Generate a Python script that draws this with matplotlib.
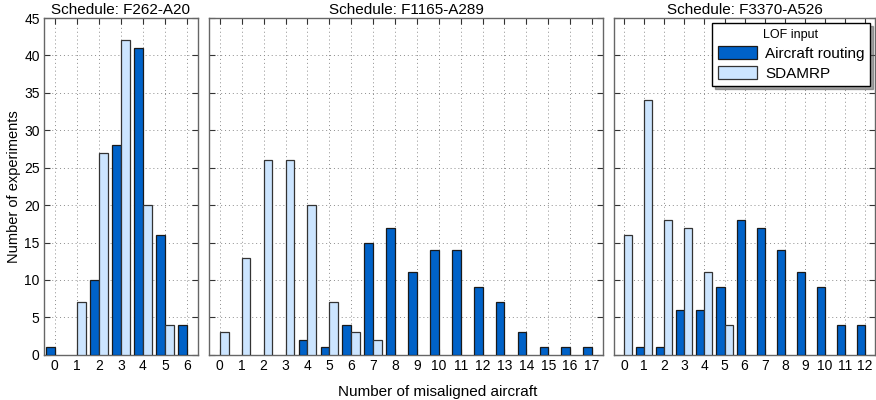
import numpy as np
import matplotlib
matplotlib.use("Agg")
import matplotlib.pyplot as plt

plt.rcParams["font.family"] = ["Liberation Sans", "DejaVu Sans"]

schedules = ["F262-A20", "F1165-A289", "F3370-A526"]
routing = [
    [1, 0, 10, 28, 41, 16, 4],
    [0, 0, 0, 0, 2, 1, 4, 15, 17, 11, 14, 14, 9, 7, 3, 1, 1, 1],
    [0, 1, 1, 6, 6, 9, 18, 17, 14, 11, 9, 4, 4],
]
sdamrp = [
    [0, 7, 27, 42, 20, 4, 0],
    [3, 13, 26, 26, 20, 7, 3, 2, 0, 0, 0, 0, 0, 0, 0, 0, 0, 0],
    [16, 34, 18, 17, 11, 4, 0, 0, 0, 0, 0, 0, 0],
]
series_labels = ["Aircraft routing", "SDAMRP"]
c_ar, c_sd = "#0062C8", "#CCE5FF"

fig = plt.figure(figsize=(8.76, 4.0), dpi=100)
# panel widths as measured on the reference (px)
gs = fig.add_gridspec(1, 3, width_ratios=[154, 394, 261], left=0.050, right=0.999,
                      bottom=0.113, top=0.955, wspace=0.041)

for i, name in enumerate(schedules):
    ax = fig.add_subplot(gs[0, i])
    x = np.arange(len(routing[i]))
    ar = np.array(routing[i]); sd = np.array(sdamrp[i])
    m1 = ar > 0; m2 = sd > 0
    ax.bar(x[m1] - 0.2, ar[m1], width=0.4, color=c_ar, edgecolor="#1a1a1a", lw=0.9,
           label=series_labels[0], zorder=3)
    ax.bar(x[m2] + 0.2, sd[m2], width=0.4, color=c_sd, edgecolor="#333333", lw=0.9,
           label=series_labels[1], zorder=3)
    ax.set_xlim(-0.5, len(x) - 0.5)
    ax.set_ylim(0, 45)
    ax.set_xticks(x)
    ax.set_yticks(np.arange(0, 46, 5))
    ax.grid(True, ls=(0, (1, 3)), color="#8c8c8c", lw=0.7, zorder=0)
    ax.tick_params(direction="in", top=True, right=True, length=4, labelsize=10,
                   color="#333333", pad=3)
    if i > 0:
        ax.tick_params(labelleft=False)
    for s in ax.spines.values():
        s.set_color("#666666"); s.set_linewidth(1.0)
    ax.set_title(f"Schedule: {name}", fontsize=11, pad=3)
    if i == 0:
        ax.set_ylabel("Number of experiments", fontsize=10.5, labelpad=2)
    if i == 2:
        leg = ax.legend(title="LOF input", loc="upper right", fontsize=11,
                        title_fontsize=9, fancybox=False, shadow=True,
                        framealpha=1, edgecolor="black", borderpad=0.35,
                        handlelength=2.6, handleheight=0.9, handletextpad=0.5,
                        labelspacing=0.35, borderaxespad=0.35)
        leg.get_frame().set_linewidth(1.0)

fig.text(0.5, 0.02, "Number of misaligned aircraft", ha="center", va="center", fontsize=11)
fig.savefig("out.png", dpi=100)
